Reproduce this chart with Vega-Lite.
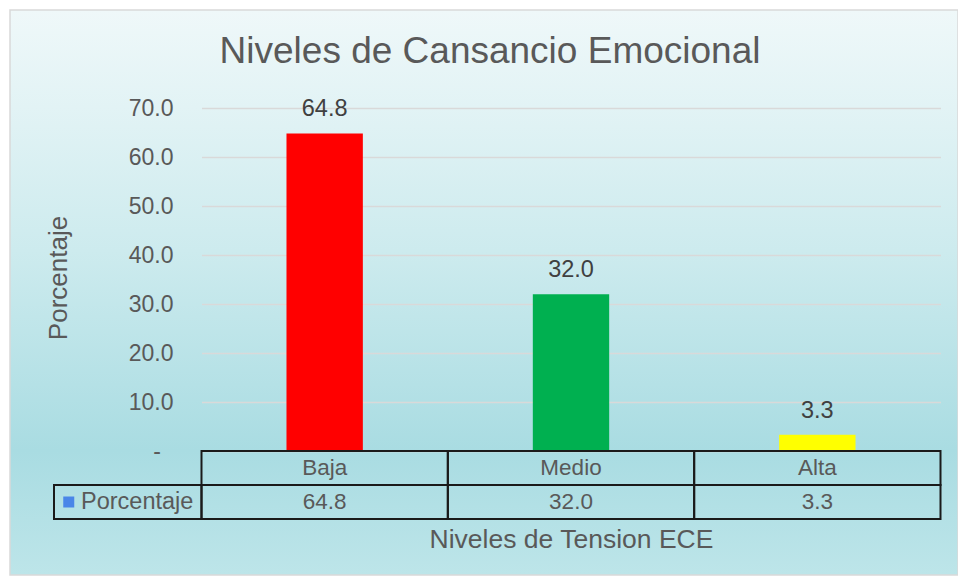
{
  "$schema": "https://vega.github.io/schema/vega-lite/v6.json",
  "width": 948,
  "height": 565,
  "padding": {"left": 10, "top": 10, "right": 0, "bottom": 5},
  "background": "white",
  "config": {"font": "Liberation Sans"},
  "view": {
    "fill": {
      "gradient": "linear", "x1": 0, "y1": 0, "x2": 0, "y2": 1,
      "stops": [
        {"offset": 0, "color": "#eff8f9"},
        {"offset": 0.173, "color": "#e2f3f5"},
        {"offset": 0.425, "color": "#cdebee"},
        {"offset": 0.78, "color": "#a9dce2"},
        {"offset": 1, "color": "#bde5e9"}
      ]
    },
    "stroke": "#d9d9d9",
    "strokeWidth": 1.5
  },
  "title": {
    "text": "Niveles de Cansancio Emocional",
    "fontSize": 37,
    "fontWeight": "normal",
    "color": "#595959",
    "anchor": "middle",
    "offset": -90,
    "baseline": "alphabetic",
    "dx": 6
  },
  "datasets": {
    "niveles": [
      {"nivel": "Baja", "porcentaje": 64.8},
      {"nivel": "Medio", "porcentaje": 32.0},
      {"nivel": "Alta", "porcentaje": 3.3}
    ],
    "serie": [
      {"serie": "Porcentaje"}
    ]
  },
  "layer": [
    {
      "data": {"name": "niveles"},
      "encoding": {
        "x": {
          "field": "nivel", "type": "nominal", "sort": null,
          "scale": {"domain": ["Baja", "Medio", "Alta"], "range": [191.5, 930.5], "paddingInner": 0.69, "paddingOuter": 0.345},
          "axis": {
            "labels": false, "ticks": false, "domain": false, "grid": false,
            "title": "Niveles de Tension ECE", "titleFontSize": 26.5, "titleFontWeight": "normal",
            "titleColor": "#595959", "titleBaseline": "alphabetic", "titleY": -28
          }
        },
        "y": {
          "field": "porcentaje", "type": "quantitative",
          "scale": {"domain": [0, 70], "range": [441, 98], "nice": false},
          "axis": {
            "values": [0, 10, 20, 30, 40, 50, 60, 70],
            "labelExpr": "datum.value == 0 ? '-' : format(datum.value, '.1f')",
            "offset": -191.5,
            "domain": false, "ticks": false, "tickSize": 0,
            "labelPadding": {"condition": {"test": "datum.value == 0", "value": 41}, "value": 28.5},
            "labelFontSize": 23, "labelColor": "#595959",
            "grid": true, "gridColor": "#d9d9d9", "gridWidth": 1.5,
            "title": "Porcentaje", "titleFontSize": 26, "titleFontWeight": "normal",
            "titleColor": "#595959", "titleX": -135.5, "titleY": 267.5,
            "titleBaseline": "alphabetic", "titleAngle": 270
          }
        }
      },
      "layer": [
        {
          "mark": {"type": "bar"},
          "encoding": {
            "color": {
              "field": "nivel", "type": "nominal",
              "scale": {"domain": ["Baja", "Medio", "Alta"], "range": ["#ff0000", "#00b050", "#ffff00"]},
              "legend": null
            }
          }
        },
        {
          "mark": {"type": "text", "dy": -17, "baseline": "alphabetic", "fontSize": 23.5, "color": "#404040"},
          "encoding": {
            "text": {"field": "porcentaje", "type": "quantitative", "format": ".1f"}
          }
        }
      ]
    },
    {
      "data": {"name": "niveles"},
      "encoding": {
        "x": {
          "field": "nivel", "type": "nominal", "sort": null,
          "scale": {"domain": ["Baja", "Medio", "Alta"], "range": [191.5, 930.5], "paddingInner": 0, "paddingOuter": 0},
          "axis": null
        }
      },
      "layer": [
        {
          "mark": {"type": "rect", "filled": false, "stroke": "#1a1a1a", "strokeWidth": 2},
          "encoding": {
            "y": {"datum": "Nivel", "type": "nominal", "scale": {"domain": ["Nivel", "Porcentaje"], "range": [441, 509], "paddingInner": 0, "paddingOuter": 0}, "axis": null}
          }
        },
        {
          "mark": {"type": "rect", "filled": false, "stroke": "#1a1a1a", "strokeWidth": 2},
          "encoding": {
            "y": {"datum": "Porcentaje", "type": "nominal", "scale": {"domain": ["Nivel", "Porcentaje"], "range": [441, 509], "paddingInner": 0, "paddingOuter": 0}, "axis": null}
          }
        },
        {
          "mark": {"type": "text", "fontSize": 22.5, "color": "#595959", "baseline": "middle"},
          "encoding": {
            "y": {"datum": "Nivel", "type": "nominal", "scale": {"domain": ["Nivel", "Porcentaje"], "range": [441, 509], "paddingInner": 0, "paddingOuter": 0}, "axis": null},
            "text": {"field": "nivel", "type": "nominal"}
          }
        },
        {
          "mark": {"type": "text", "fontSize": 22.5, "color": "#595959", "baseline": "middle"},
          "encoding": {
            "y": {"datum": "Porcentaje", "type": "nominal", "scale": {"domain": ["Nivel", "Porcentaje"], "range": [441, 509], "paddingInner": 0, "paddingOuter": 0}, "axis": null},
            "text": {"field": "porcentaje", "type": "quantitative", "format": ".1f"}
          }
        }
      ]
    },
    {
      "data": {"name": "serie"},
      "encoding": {
        "y": {"datum": "Porcentaje", "type": "nominal", "scale": {"domain": ["Nivel", "Porcentaje"], "range": [441, 509], "paddingInner": 0, "paddingOuter": 0}, "axis": null}
      },
      "layer": [
        {
          "mark": {"type": "rect", "filled": false, "stroke": "#1a1a1a", "strokeWidth": 2},
          "encoding": {
            "x": {"field": "serie", "type": "nominal", "scale": {"domain": ["Porcentaje"], "range": [44, 191.5], "paddingInner": 0, "paddingOuter": 0}, "axis": null}
          }
        },
        {
          "mark": {"type": "square", "filled": true, "size": 121, "color": "#4a86e8", "opacity": 1},
          "encoding": {
            "x": {"field": "serie", "type": "nominal", "bandPosition": 0.1, "scale": {"domain": ["Porcentaje"], "range": [44, 191.5], "paddingInner": 0, "paddingOuter": 0}, "axis": null}
          }
        },
        {
          "mark": {"type": "text", "align": "left", "baseline": "middle", "fontSize": 23.5, "color": "#595959"},
          "encoding": {
            "x": {"field": "serie", "type": "nominal", "bandPosition": 0.183, "scale": {"domain": ["Porcentaje"], "range": [44, 191.5], "paddingInner": 0, "paddingOuter": 0}, "axis": null},
            "text": {"field": "serie", "type": "nominal"}
          }
        }
      ]
    }
  ],
  "resolve": {"scale": {"x": "independent", "y": "independent"}}
}
